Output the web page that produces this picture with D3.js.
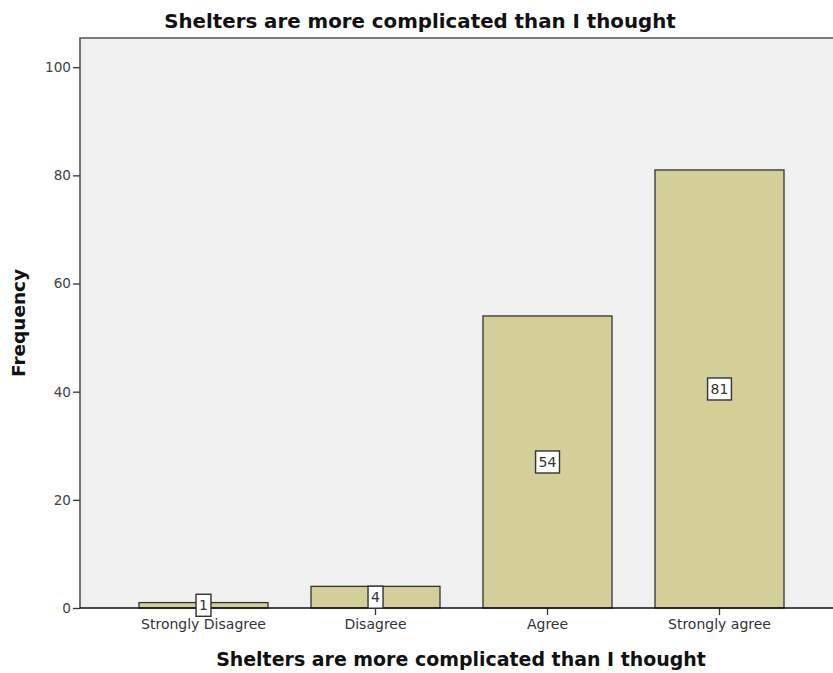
<!DOCTYPE html>
<html><head><meta charset="utf-8">
<script src="https://cdn.jsdelivr.net/npm/d3@7"></script>
<style>body{margin:0;background:#fff}</style>
</head><body>
<svg id="c" width="833" height="673"></svg>
<script>
const categories = ["Strongly Disagree","Disagree","Agree","Strongly agree"];
const values = [1,4,54,81];
const yTicks = [0,20,40,60,80,100];
const title = "Shelters are more complicated than I thought";
const xTitle = "Shelters are more complicated than I thought";
const yTitle = "Frequency";

const svg = d3.select("#c");
const pLeft = 80, pTop = 38, pBottom = 608, pRight = 843;
const x = d3.scaleBand().domain(categories).range([pLeft, pRight]).paddingInner(0.25).paddingOuter(0.343);
const y = d3.scaleLinear().domain([0, 105.4]).range([pBottom, pTop]);
const fontFam = "'DejaVu Sans',sans-serif";

function fit(sel, w){
  const n = sel.node(); const fs = parseFloat(sel.attr("font-size"));
  const cur = n.getComputedTextLength();
  sel.attr("font-size", fs * w / cur);
}

svg.append("rect").attr("x", pLeft).attr("y", pTop).attr("width", 833-pLeft).attr("height", pBottom-pTop).attr("fill", "#f0f0f0");
svg.append("path").attr("d", `M${pLeft},${pBottom}V${pTop}H833`).attr("fill","none").attr("stroke","#555").attr("stroke-width",1.6);

svg.selectAll("rect.bar").data(values).enter().append("rect").attr("class","bar")
  .attr("x",(d,i)=>x(categories[i])).attr("width",x.bandwidth())
  .attr("y",d=>y(d)).attr("height",d=>pBottom-y(d))
  .attr("fill","#d3cf98").attr("stroke","#333").attr("stroke-width",1.3);

const yAxis = d3.axisLeft(y).tickValues(yTicks).tickSize(7).tickPadding(2);
const gy = svg.append("g").attr("transform",`translate(${pLeft},0)`).call(yAxis);
gy.select(".domain").remove();
gy.selectAll("line").attr("stroke","#333").attr("stroke-width",1.3);
gy.selectAll("text").attr("font-family",fontFam).attr("font-size",13.6).attr("fill","#444");

const xAxis = d3.axisBottom(x).tickSize(7).tickPadding(4);
const gx = svg.append("g").attr("transform",`translate(0,${pBottom})`).call(xAxis);
gx.select(".domain").remove();
gx.selectAll("line").attr("stroke","#333").attr("stroke-width",1.3);
gx.selectAll("text").attr("font-family",fontFam).attr("font-size",14).attr("fill","#333");
svg.append("line").attr("x1",pLeft).attr("x2",833).attr("y1",pBottom).attr("y2",pBottom).attr("stroke","#111").attr("stroke-width",1.5);

// value labels
const lab = svg.selectAll("g.lab").data(values).enter().append("g").attr("class","lab")
  .attr("transform",(d,i)=>`translate(${x(categories[i])+x.bandwidth()/2},${y(d/2)})`);
lab.append("text").text(d=>d).attr("text-anchor","middle").attr("dy","0.36em")
  .attr("font-family",fontFam).attr("font-size",14).attr("fill","#333")
  .each(function(){
    const b=this.getBBox();
    d3.select(this.parentNode).insert("rect","text")
      .attr("x",b.x-3).attr("y",-11).attr("width",b.width+6).attr("height",22)
      .attr("fill","#fff").attr("stroke","#333").attr("stroke-width",1.4);
  });

const t1 = svg.append("text").attr("x",420).attr("y",28).attr("text-anchor","middle")
  .attr("font-family",fontFam).attr("font-weight","bold").attr("font-size",18).attr("fill","#111").text(title);
fit(t1, 512);
const t2 = svg.append("text").attr("x",461).attr("y",666).attr("text-anchor","middle")
  .attr("font-family",fontFam).attr("font-weight","bold").attr("font-size",18).attr("fill","#111").text(xTitle);
fit(t2, 490);
const t3 = svg.append("text").attr("transform",`translate(25,${(pTop+pBottom)/2}) rotate(-90)`).attr("text-anchor","middle")
  .attr("font-family",fontFam).attr("font-weight","bold").attr("font-size",16).attr("fill","#111").text(yTitle);
fit(t3, 108);
</script>
</body></html>
